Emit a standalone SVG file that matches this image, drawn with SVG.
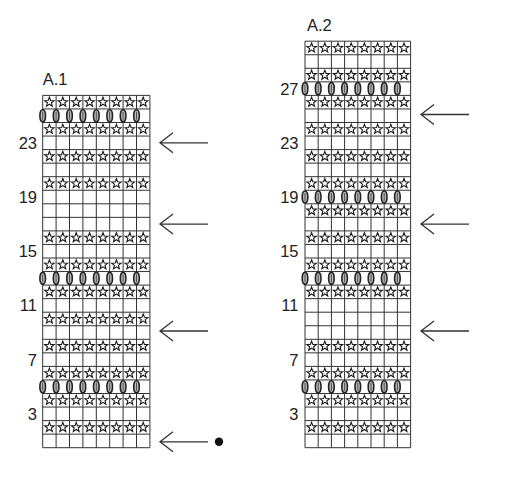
<svg xmlns="http://www.w3.org/2000/svg" xmlns:xlink="http://www.w3.org/1999/xlink" width="506" height="480" viewBox="0 0 506 480">
<style>
.grid{fill:none;stroke:#333;stroke-width:1}
.star{fill:#fff;stroke:#1a1a1a;stroke-width:1.1;stroke-linejoin:miter}
.oval{fill:#b8b8b8;stroke:#222;stroke-width:1.6}
.ovl{stroke:#444;stroke-width:0.9}
.lbl{font-family:"Liberation Sans",Arial,sans-serif;font-size:16.5px;fill:#222}
.num{font-family:"Liberation Sans",Arial,sans-serif;font-size:16.5px;fill:#222;text-anchor:end}
.arr{fill:none;stroke:#333;stroke-width:1.3}
</style>
<defs>
<path id="st" class="star" d="M0,-5 L1.234,-1.699 L4.755,-1.545 L1.997,0.649 L2.939,4.045 L0,2.1 L-2.939,4.045 L-1.997,0.649 L-4.755,-1.545 L-1.234,-1.699Z"/>
<g id="ov"><ellipse class="oval" cx="0" cy="0" rx="2.8" ry="6"/><line class="ovl" x1="0" y1="-4" x2="0" y2="4"/></g>
<g id="sr1"><use href="#st" x="6.7"/><use href="#st" x="20.1"/><use href="#st" x="33.5"/><use href="#st" x="46.9"/><use href="#st" x="60.3"/><use href="#st" x="73.7"/><use href="#st" x="87.1"/><use href="#st" x="100.5"/></g>
<g id="or1"><use href="#ov" x="0"/><use href="#ov" x="13.4"/><use href="#ov" x="26.8"/><use href="#ov" x="40.2"/><use href="#ov" x="53.6"/><use href="#ov" x="67"/><use href="#ov" x="80.4"/><use href="#ov" x="93.8"/></g>
<g id="sr2"><use href="#st" x="6.6"/><use href="#st" x="19.8"/><use href="#st" x="33"/><use href="#st" x="46.2"/><use href="#st" x="59.4"/><use href="#st" x="72.6"/><use href="#st" x="85.8"/><use href="#st" x="99"/></g>
<g id="or2"><use href="#ov" x="0"/><use href="#ov" x="13.2"/><use href="#ov" x="26.4"/><use href="#ov" x="39.6"/><use href="#ov" x="52.8"/><use href="#ov" x="66"/><use href="#ov" x="79.2"/><use href="#ov" x="92.4"/></g>
</defs>
<rect width="506" height="480" fill="#fff"/>

<g id="chartA1">
<text class="lbl" x="42.7" y="85">A.1</text>
<path class="grid" d="M42.7,95.4V447.7M56.1,95.4V447.7M69.5,95.4V447.7M82.9,95.4V447.7M96.3,95.4V447.7M109.7,95.4V447.7M123.1,95.4V447.7M136.5,95.4V447.7M149.9,95.4V447.7
M42.7,447.7H149.9M42.7,434.15H149.9M42.7,420.6H149.9M42.7,407.05H149.9M42.7,393.5H149.9M42.7,379.95H149.9M42.7,366.4H149.9M42.7,352.85H149.9M42.7,339.3H149.9M42.7,325.75H149.9M42.7,312.2H149.9M42.7,298.65H149.9M42.7,285.1H149.9M42.7,271.55H149.9M42.7,258H149.9M42.7,244.45H149.9M42.7,230.9H149.9M42.7,217.35H149.9M42.7,203.8H149.9M42.7,190.25H149.9M42.7,176.7H149.9M42.7,163.15H149.9M42.7,149.6H149.9M42.7,136.05H149.9M42.7,122.5H149.9M42.7,108.95H149.9M42.7,95.4H149.9"/>
<use href="#sr1" x="42.7" y="427.375"/>
<use href="#sr1" x="42.7" y="400.275"/>
<use href="#or1" x="42.7" y="386.725"/>
<use href="#sr1" x="42.7" y="373.175"/>
<use href="#sr1" x="42.7" y="346.075"/>
<use href="#sr1" x="42.7" y="318.975"/>
<use href="#sr1" x="42.7" y="291.875"/>
<use href="#or1" x="42.7" y="278.325"/>
<use href="#sr1" x="42.7" y="264.775"/>
<use href="#sr1" x="42.7" y="237.675"/>
<use href="#sr1" x="42.7" y="183.475"/>
<use href="#sr1" x="42.7" y="156.375"/>
<use href="#sr1" x="42.7" y="129.275"/>
<use href="#or1" x="42.7" y="115.725"/>
<use href="#sr1" x="42.7" y="102.175"/>
<text class="num" x="37" y="148.8">23</text>
<text class="num" x="37" y="203">19</text>
<text class="num" x="37" y="257.2">15</text>
<text class="num" x="37" y="311.4">11</text>
<text class="num" x="37" y="365.6">7</text>
<text class="num" x="37" y="419.8">3</text>
</g>

<g id="chartA2">
<text class="lbl" x="307" y="30.7">A.2</text>
<path class="grid" d="M305,41.2V447.7M318.2,41.2V447.7M331.4,41.2V447.7M344.6,41.2V447.7M357.8,41.2V447.7M371,41.2V447.7M384.2,41.2V447.7M397.4,41.2V447.7M410.6,41.2V447.7
M305,447.7H410.6M305,434.15H410.6M305,420.6H410.6M305,407.05H410.6M305,393.5H410.6M305,379.95H410.6M305,366.4H410.6M305,352.85H410.6M305,339.3H410.6M305,325.75H410.6M305,312.2H410.6M305,298.65H410.6M305,285.1H410.6M305,271.55H410.6M305,258H410.6M305,244.45H410.6M305,230.9H410.6M305,217.35H410.6M305,203.8H410.6M305,190.25H410.6M305,176.7H410.6M305,163.15H410.6M305,149.6H410.6M305,136.05H410.6M305,122.5H410.6M305,108.95H410.6M305,95.4H410.6M305,81.85H410.6M305,68.3H410.6M305,54.75H410.6M305,41.2H410.6"/>
<use href="#sr2" x="305" y="427.375"/>
<use href="#sr2" x="305" y="400.275"/>
<use href="#or2" x="305" y="386.725"/>
<use href="#sr2" x="305" y="373.175"/>
<use href="#sr2" x="305" y="346.075"/>
<use href="#sr2" x="305" y="291.875"/>
<use href="#or2" x="305" y="278.325"/>
<use href="#sr2" x="305" y="264.775"/>
<use href="#sr2" x="305" y="237.675"/>
<use href="#sr2" x="305" y="210.575"/>
<use href="#or2" x="305" y="197.025"/>
<use href="#sr2" x="305" y="183.475"/>
<use href="#sr2" x="305" y="156.375"/>
<use href="#sr2" x="305" y="129.275"/>
<use href="#sr2" x="305" y="102.175"/>
<use href="#or2" x="305" y="88.625"/>
<use href="#sr2" x="305" y="75.075"/>
<use href="#sr2" x="305" y="47.975"/>
<text class="num" x="298.5" y="94.6">27</text>
<text class="num" x="298.5" y="148.8">23</text>
<text class="num" x="298.5" y="203">19</text>
<text class="num" x="298.5" y="257.2">15</text>
<text class="num" x="298.5" y="311.4">11</text>
<text class="num" x="298.5" y="365.6">7</text>
<text class="num" x="298.5" y="419.8">3</text>
</g>

<g id="connectors">
<path class="arr" d="M160,142.8H208M173,132.8L160,142.8L173,152.8"/>
<path class="arr" d="M160,224.1H208M173,214.1L160,224.1L173,234.1"/>
<path class="arr" d="M160,331H208M173,321L160,331L173,341"/>
<path class="arr" d="M160,441.8H208M173,431.8L160,441.8L173,451.8"/>
<circle cx="219" cy="441.8" r="4.2" fill="#111"/>
<path class="arr" d="M421,114.5H469M434,104.5L421,114.5L434,124.5"/>
<path class="arr" d="M421,224.1H469M434,214.1L421,224.1L434,234.1"/>
<path class="arr" d="M421,331H469M434,321L421,331L434,341"/>
</g>
</svg>
